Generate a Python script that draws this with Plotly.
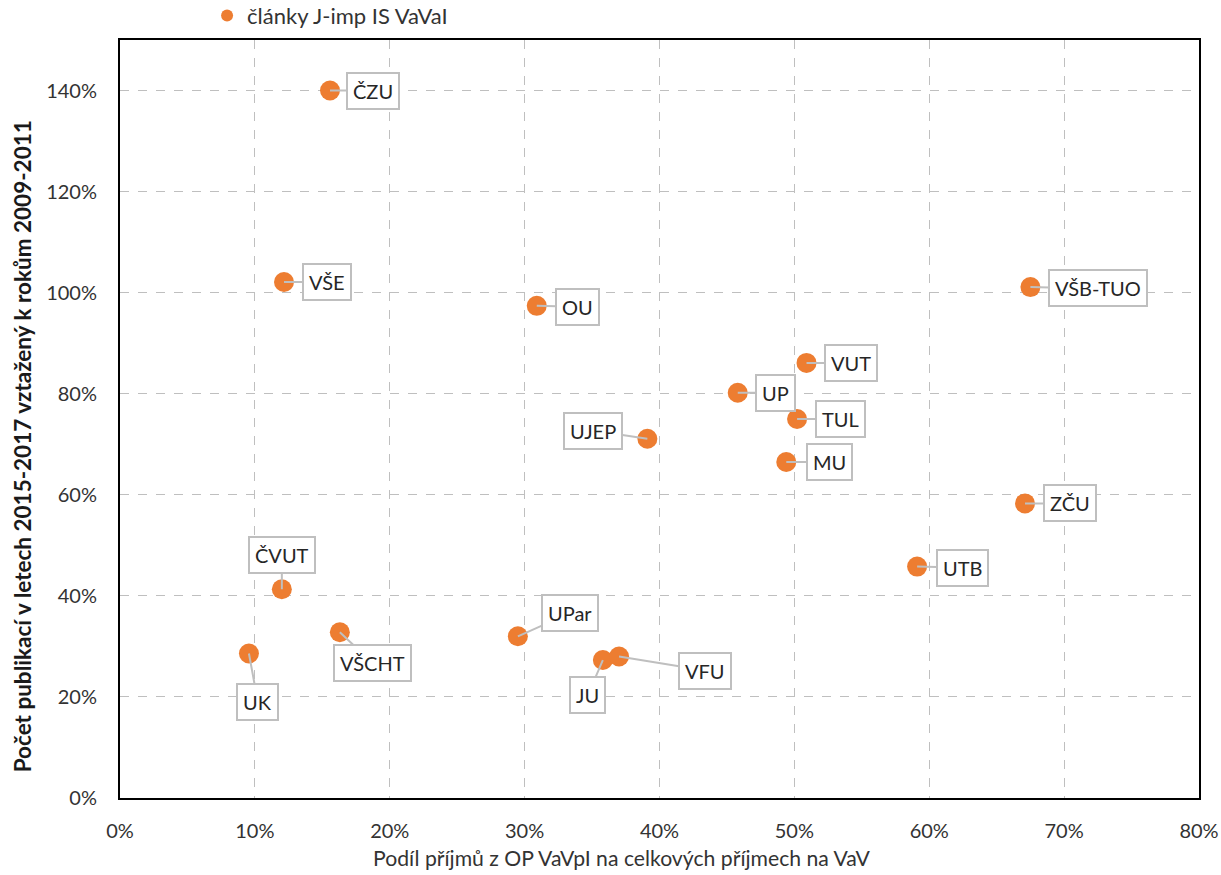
import plotly.graph_objects as go

names = ["ČZU", "VŠE", "OU", "VŠB-TUO", "VUT", "UP", "TUL", "UJEP", "MU", "ZČU",
         "UTB", "ČVUT", "VŠCHT", "UPar", "UK", "JU", "VFU"]
x_share = [0.1557, 0.1216, 0.309, 0.675, 0.509, 0.458, 0.502, 0.391, 0.494, 0.671,
           0.591, 0.120, 0.163, 0.295, 0.0956, 0.358, 0.370]
y_ratio = [1.400, 1.021, 0.974, 1.011, 0.861, 0.802, 0.750, 0.711, 0.665, 0.583,
           0.458, 0.413, 0.328, 0.320, 0.286, 0.273, 0.280]
# label offsets (pixels) relative to point
lab_dx = [43, 43, 41, 68, 44, 38, 43, -54, 43, 45, 45, 0, 33, 52, 9, -15, 86]
lab_dy = [0, 0, 1, 1, 0, 0, 0, -8, 0, 0, 1, -34, 31, -23, 49, 35, 14]

x_ticks = [0, 0.1, 0.2, 0.3, 0.4, 0.5, 0.6, 0.7, 0.8]
y_ticks = [0, 0.2, 0.4, 0.6, 0.8, 1.0, 1.2, 1.4]

x_title = "Podíl příjmů z OP VaVpI na celkových příjmech na VaV"
y_title = "Počet publikací v letech 2015-2017 vztažený k rokům 2009-2011"

FONT = "Lato"
ORANGE = "#ED7D31"
GREY = "#bfbfbf"
TXT = "#333333"

fig = go.Figure()
fig.add_trace(go.Scatter(
    x=x_share, y=y_ratio, mode="markers", name="články J-imp IS VaVaI",
    marker=dict(color=ORANGE, size=20, line=dict(width=0)),
))

annotations = []
for n, xv, yv, dx, dy in zip(names, x_share, y_ratio, lab_dx, lab_dy):
    annotations.append(dict(
        x=xv, y=yv, xref="x", yref="y", text=n, showarrow=True,
        ax=dx, ay=dy, arrowhead=0, arrowwidth=2, arrowcolor=GREY, standoff=0,
        bgcolor="white", bordercolor=GREY, borderwidth=2, borderpad=5,
        font=dict(family=FONT, size=20, color="#262626"),
    ))

# axis titles (placed as in the reference, slightly off-centre)
annotations.append(dict(
    x=0.4648, y=-0.079, xref="paper", yref="paper", text=x_title, showarrow=False,
    xanchor="center", yanchor="middle",
    font=dict(family=FONT, size=21.2, color=TXT)))
annotations.append(dict(
    x=-0.0908, y=0.464, xref="paper", yref="paper", text="<b>" + y_title + "</b>",
    showarrow=False, textangle=-90, xanchor="center", yanchor="middle",
    font=dict(family=FONT, size=22.5, color="#1a1a1a")))

fig.update_layout(
    width=1221, height=875,
    margin=dict(l=120, r=22, t=40, b=77, autoexpand=False),
    paper_bgcolor="white", plot_bgcolor="white",
    font=dict(family=FONT, size=20, color=TXT),
    showlegend=True,
    legend=dict(orientation="h", x=0.0807, xanchor="left", y=1.032, yanchor="middle",
                font=dict(family=FONT, size=22, color=TXT),
                bgcolor="rgba(0,0,0,0)", itemsizing="constant"),
    xaxis=dict(range=[0, 0.8], tickvals=x_ticks, tickformat=".0%",
               showgrid=True, gridcolor="#bfbfbf", griddash="dash", gridwidth=1,
               showline=True, linecolor="black", linewidth=2, mirror=True,
               zeroline=False, ticks="", ticklabelstandoff=14,
               tickfont=dict(family=FONT, size=20, color=TXT)),
    yaxis=dict(range=[0, 1.5], tickvals=y_ticks, tickformat=".0%",
               showgrid=True, gridcolor="#bfbfbf", griddash="dash", gridwidth=1,
               showline=True, linecolor="black", linewidth=2, mirror=True,
               zeroline=False, ticks="", ticklabelstandoff=17,
               tickfont=dict(family=FONT, size=20, color=TXT)),
    annotations=annotations,
)

fig.write_html("out.html", config={"displayModeBar": False},
               post_script="document.body.style.margin='0';")
